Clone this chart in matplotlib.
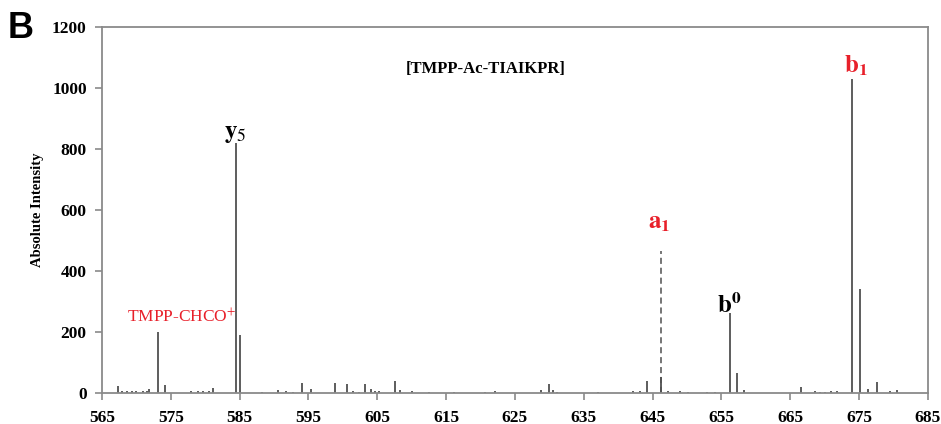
import numpy as np
import matplotlib.pyplot as plt

plt.rcParams['font.family'] = ['Liberation Serif', 'DejaVu Serif']
plt.rcParams['mathtext.fontset'] = 'stix'

# peak list: m/z and absolute intensity
mz = [567.3, 567.9, 568.6, 569.3, 570.0, 571.0, 571.5, 571.9, 573.1, 574.1,
      578.0, 579.0, 579.7, 580.5, 581.2, 584.4, 585.1, 588.2, 590.6, 591.8,
      592.8, 594.0, 595.3, 598.8, 600.6, 601.5, 602.3, 603.2, 604.1, 604.7,
      605.3, 607.6, 608.3, 610.1, 612.5, 616.2, 620.7, 622.1, 628.8, 629.9,
      630.5, 631.1, 637.1, 642.2, 643.2, 644.2, 646.2, 647.2, 649.0, 650.2,
      652.9, 654.1, 656.3, 657.3, 658.3, 666.5, 668.6, 669.4, 670.1, 671.0,
      671.8, 674.0, 675.1, 676.3, 677.6, 679.5, 680.5]
intensity = [22, 6, 5, 5, 5, 6, 8, 12, 200, 25,
             5, 5, 6, 8, 15, 820, 190, 3, 9, 8,
             4, 32, 12, 33, 30, 5, 3, 28, 12, 8,
             6, 40, 10, 8, 4, 4, 4, 5, 10, 30,
             10, 3, 3, 8, 6, 40, 52, 8, 5, 4,
             2, 3, 262, 65, 10, 20, 5, 4, 4, 5,
             6, 1030, 340, 12, 35, 5, 10]

# a1 is drawn as a dashed (calculated) line
a1_mz = 646.2
a1_height = 465

xticks = np.arange(565, 686, 10)
yticks = np.arange(0, 1201, 200)

axis_col = '#8a8a8a'
stem_col = '#505050'

fig = plt.figure(figsize=(9.41, 4.24), dpi=100)
ax = fig.add_axes([0.1084, 0.0731, 0.8776, 0.8632])

ax.vlines(a1_mz, 0, a1_height, colors=stem_col, linestyles=(0, (4, 2.5)), lw=1.1)
ax.vlines(mz, 0, intensity, colors=stem_col, lw=1.3)

ax.set_xlim(565, 685)
ax.set_ylim(0, 1200)
ax.set_xticks(xticks)
ax.set_yticks(yticks)
ax.tick_params(axis='both', direction='out', length=5, width=1.2, color=axis_col,
               labelsize=12.5)
ax.tick_params(axis='x', pad=7)
ax.tick_params(axis='y', pad=6)
for lab in ax.get_xticklabels() + ax.get_yticklabels():
    lab.set_fontweight('bold')
for sp in ax.spines.values():
    sp.set_color(axis_col)
    sp.set_linewidth(1.3)

ax.set_ylabel('Absolute Intensity', fontsize=10.5, fontweight='bold', labelpad=6)

# annotations
ax.text(620.7, 1049, '[TMPP-Ac-TIAIKPR]', fontsize=12, fontweight='bold',
        ha='center', va='baseline')
ax.text(584.3, 836, r'$\mathbf{y}_{\mathrm{5}}$', fontsize=18, ha='center', va='baseline')
ax.text(568.6, 230, 'TMPP-CHCO$^{+}$', fontsize=12.5, color='#e8202a',
        ha='left', va='baseline')
ax.text(646.0, 538, r'$\mathbf{a}_{\mathbf{1}}$', fontsize=18, color='#e8202a',
        ha='center', va='baseline')
ax.text(656.2, 262, r'$\mathbf{b}^{\mathbf{0}}$', fontsize=18, ha='center', va='baseline')
ax.text(674.6, 1049, r'$\mathbf{b}_{\mathbf{1}}$', fontsize=18, color='#e8202a',
        ha='center', va='baseline')

fig.text(0.008, 0.975, 'B', fontsize=26, fontweight='bold', family='Liberation Sans',
         ha='left', va='top')

plt.savefig('out.png', dpi=100)
